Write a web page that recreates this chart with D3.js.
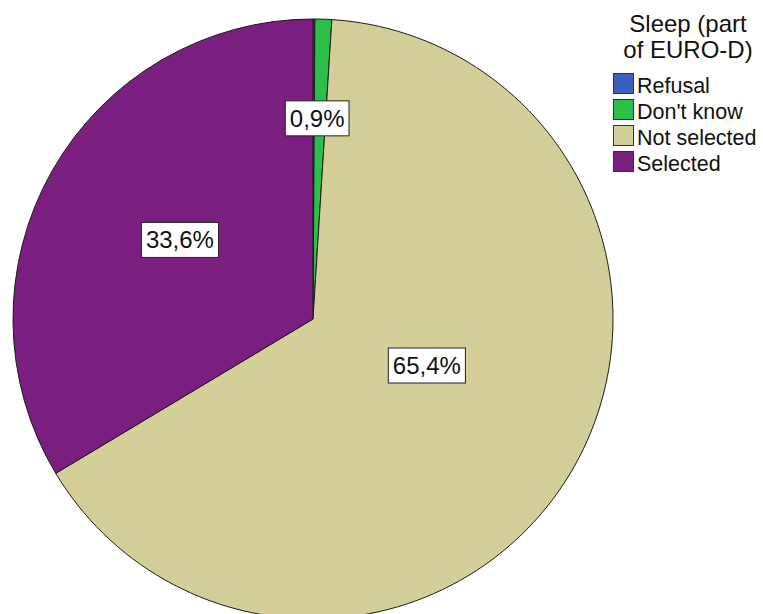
<!DOCTYPE html>
<html><head><meta charset="utf-8">
<script src="https://cdn.jsdelivr.net/npm/d3@7"></script>
<style>body{margin:0;background:#fff}svg{display:block}text{font-family:"Liberation Sans",Arial,sans-serif}</style>
</head><body>
<svg id="c" width="763" height="614"></svg>
<script>
const categories = ["Refusal","Don't know","Not selected","Selected"];
const values = [0.1, 0.9, 65.4, 33.6];
const labels = [null, "0,9%", "65,4%", "33,6%"];
const colors = ["#3c5fbf","#2cc04a","#d4cf98","#7a1e7f"];
const legendTitle = ["Sleep (part","of EURO-D)"];

// label placement (fraction of radius, angle shift in degrees)
const labelRadius = [0, 0.669, 0.41, 0.516];
const labelShift = [0, -0.8, -9.1, 1.2];

const W=763,H=614, cx=313, cy=319, R=300;
const svg=d3.select("#c");
const data=categories.map((c,i)=>({c,v:values[i],l:labels[i],i}));
const pie=d3.pie().value(d=>d.v).sort(null);
const arcs=pie(data);
const arc=d3.arc().innerRadius(0).outerRadius(R);
const g=svg.append("g").attr("transform",`translate(${cx},${cy})`);
g.selectAll("path").data(arcs).enter().append("path")
 .attr("d",arc).attr("fill",d=>colors[d.data.i]).attr("stroke","#1a1a1a").attr("stroke-width",1);

arcs.forEach(d=>{
  if(!d.data.l) return;
  const i=d.data.i;
  const a=(d.startAngle+d.endAngle)/2 + labelShift[i]*Math.PI/180;
  const r=R*labelRadius[i];
  const x=r*Math.sin(a), y=-r*Math.cos(a);
  const lg=g.append("g");
  const rect=lg.append("rect");
  const t=lg.append("text").attr("x",x).attr("y",y+8.5).attr("text-anchor","middle")
    .attr("font-size",24).attr("fill","#111").text(d.data.l);
  const w=t.node().getComputedTextLength();
  rect.attr("x",x-w/2-4.5).attr("y",y-17.5).attr("width",w+9).attr("height",35)
    .attr("fill","#fff").attr("stroke","#222").attr("stroke-width",1);
});

const lg=svg.append("g");
legendTitle.forEach((t,i)=>lg.append("text").attr("x",688).attr("y",32+i*26).attr("text-anchor","middle")
  .attr("font-size",24).attr("fill","#111").text(t));
categories.forEach((c,i)=>{
  const y=73.5+i*26;
  lg.append("rect").attr("x",613.5).attr("y",y).attr("width",20).attr("height",20)
    .attr("fill",colors[i]).attr("stroke","#333").attr("stroke-width",1);
  lg.append("text").attr("x",637).attr("y",y+19).attr("font-size",21.5).attr("fill","#111").text(c);
});
</script>
</body></html>
